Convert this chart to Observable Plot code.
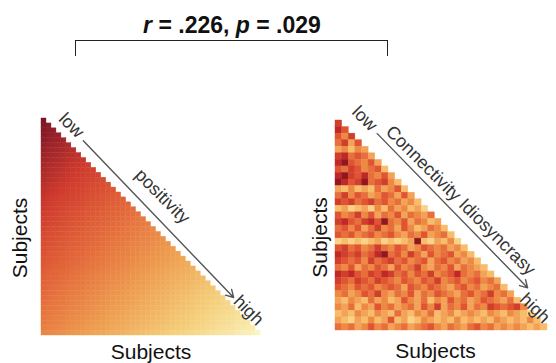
<!DOCTYPE html>
<html><head><meta charset="utf-8">
<script src="https://cdn.jsdelivr.net/npm/d3@7"></script>
<script src="https://cdn.jsdelivr.net/npm/@observablehq/plot@0.6"></script>
<style>
body{margin:0;background:#fff;font-family:"Liberation Sans",Arial,sans-serif}
#wrap{position:relative;width:556px;height:363px;overflow:hidden;background:#fff}
#left,#right{position:absolute;top:0}
#left{left:0}#right{left:280px}
#title{position:absolute;left:0;width:464px;top:12px;text-align:center;font-weight:bold;font-size:23px;color:#111;line-height:normal}
#bracket{position:absolute;left:75px;top:40px;width:311px;height:15px;border:1.5px solid #222;border-bottom:none}
</style></head><body>
<div id="wrap"><div id="left"></div><div id="right"></div><div id="title"><i>r</i> = .226, <i>p</i> = .029</div><div id="bracket"></div></div>
<script>
// Per-subject positivity (ranked low -> high), left matrix
const positivity = [0.00,0.03,0.05,0.07,0.09,0.12,0.14,0.16,0.18,0.21,0.23,0.25,0.27,0.30,0.32,0.34,0.36,0.38,0.41,0.43,0.45,0.47,0.50,0.52,0.54,0.56,0.59,0.61,0.63,0.65,0.67,0.70,0.72,0.74,0.76,0.79,0.81,0.83,0.85,0.88,0.90,0.92,0.95,1.00];
// Connectivity idiosyncrasy similarity levels (0 = light, 9 = dark), lower triangle rows
const idioRows = [
"7","86","647","5736","34243","785653","8965463","65764562","897685463","9867956742",
"32423253462","574653465363","7675675645342","23123142534231","645746354635435",
"7865786954635423","56463574536423542","656456456435463452","1212123121239213241",
"67564575465346545342","876756895647536456342","7656475675645635645342",
"54635465364574354635432","878657687564657456854532","7657657654654657456456453",
"65465645653654654356453452","453465743546354654356457453","3243253423643524364534654352",
"43524364534536473546354765674","232432432532435234234324324321",
"3213242362312432324232324323242","54534645345345643543564534343232"];
const axisLabel = "Subjects";
const leftNotes = ["low","positivity","high"];
const rightNotes = ["low","Connectivity Idiosyncrasy","high"];

const NL = positivity.length;
const leftCells = [];
for (let r = 0; r < NL; r++) for (let c = 0; c <= r; c++)
  leftCells.push({r, c, v: 1 - (positivity[r] + positivity[c]) / 2});

const NR = idioRows.length;
const rightCells = [];
idioRows.forEach((row, r) => row.split("").forEach((ch, c) => rightCells.push({r, c, v: +ch})));

const font = '"Liberation Sans", Arial, sans-serif';

const left = Plot.plot({
  width: 280, height: 363,
  marginLeft: 41, marginRight: 20, marginTop: 118, marginBottom: 28,
  style: {fontFamily: font, background: "transparent", overflow: "visible"},
  x: {domain: [0, NL], axis: null},
  y: {domain: [0, NL], reverse: true, axis: null},
  color: {type: "linear", domain: [0, 0.2, 0.4, 0.6, 0.8, 1],
          range: ["#fbf5c4", "#f5d07c", "#ee9f50", "#e46a3a", "#cf3a2d", "#7a1526"]},
  marks: [
    Plot.rect(leftCells, {x1: "c", x2: d => d.c + 1, y1: "r", y2: d => d.r + 1, fill: "v", stroke: "v", strokeWidth: 0.4}),
    Plot.arrow([{x1: 8.4, y1: 4.5, x2: 38.6, y2: 36.3}], {x1: "x1", y1: "y1", x2: "x2", y2: "y2", stroke: "#555", strokeWidth: 1.4, headLength: 9}),
    Plot.text([{t: leftNotes[0], x: 6.0, y: 1.4}, {t: leftNotes[1], x: 24.3, y: 15.8}, {t: leftNotes[2], x: 41.6, y: 38.9}],
      {x: "x", y: "y", text: "t", rotate: 45, fontSize: 18, fill: "#333"}),
    Plot.text([axisLabel], {frameAnchor: "bottom", textAnchor: "middle", lineAnchor: "middle", dy: 17, fontSize: 21, fill: "#111"}),
    Plot.text([axisLabel], {frameAnchor: "left", textAnchor: "middle", lineAnchor: "middle", rotate: -90, dx: -21, dy: 11, fontSize: 21, fill: "#111"})
  ]
});
document.getElementById("left").appendChild(left);

const right = Plot.plot({
  width: 276, height: 363,
  marginLeft: 55, marginRight: 9, marginTop: 120, marginBottom: 33,
  style: {fontFamily: font, background: "transparent", overflow: "visible"},
  x: {domain: [0, NR], axis: null},
  y: {domain: [0, NR], reverse: true, axis: null},
  color: {type: "linear", domain: [0, 2, 4, 6, 8, 9],
          range: ["#fce6a4", "#f7bd6a", "#ee8944", "#e05432", "#c02726", "#90161f"]},
  marks: [
    Plot.rect(rightCells, {x1: "c", x2: d => d.c + 1, y1: "r", y2: d => d.r + 1, fill: "v", stroke: "v", strokeWidth: 0.4}),
    Plot.arrow([{x1: 6.3, y1: 2.0, x2: 29.0, y2: 25.5}], {x1: "x1", y1: "y1", x2: "x2", y2: "y2", stroke: "#555", strokeWidth: 1.4, headLength: 9}),
    Plot.text([{t: rightNotes[0], x: 4.4, y: -0.3}, {t: rightNotes[1], x: 18.9, y: 12.2}, {t: rightNotes[2], x: 30.1, y: 28.6}],
      {x: "x", y: "y", text: "t", rotate: 45, fontSize: 18, fill: "#333"}),
    Plot.text([axisLabel], {frameAnchor: "bottom", textAnchor: "middle", lineAnchor: "middle", dx: -6, dy: 21, fontSize: 21, fill: "#111"}),
    Plot.text([axisLabel], {frameAnchor: "left", textAnchor: "middle", lineAnchor: "middle", rotate: -90, dx: -15, dy: 12, fontSize: 21, fill: "#111"})
  ]
});
document.getElementById("right").appendChild(right);
</script>
</body></html>
